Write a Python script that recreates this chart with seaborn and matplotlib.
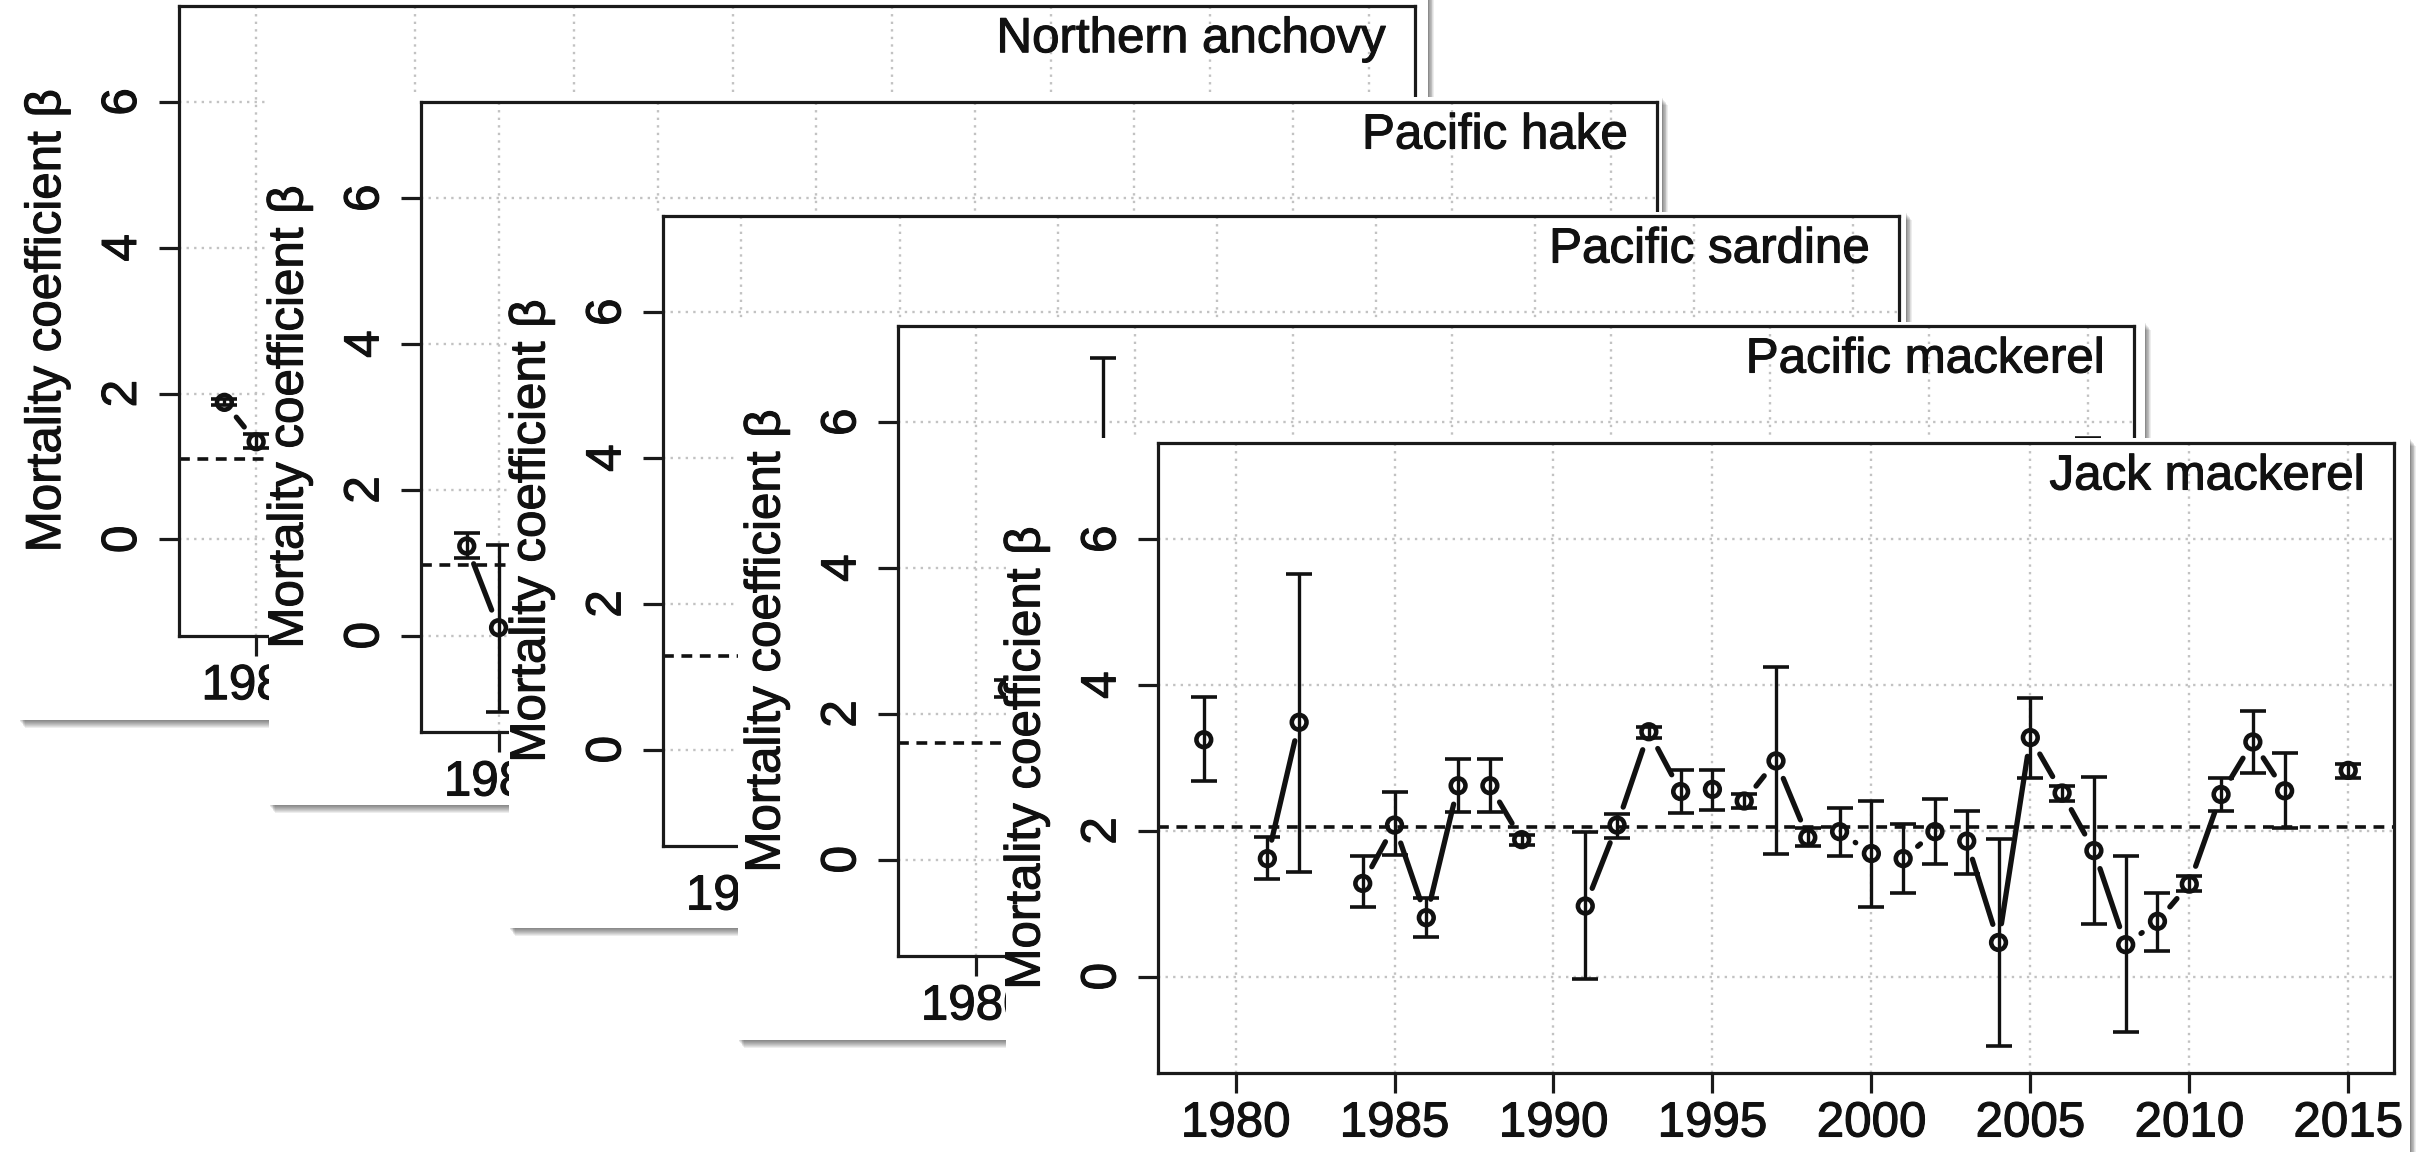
import numpy as np
import pandas as pd
import matplotlib
matplotlib.use("Agg")
import matplotlib.pyplot as plt
from matplotlib.patches import Rectangle
import matplotlib.patheffects as pe
import seaborn as sns

# ---------------------------------------------------------------- data
panel_titles = ["Northern anchovy", "Pacific hake", "Pacific sardine",
                "Pacific mackerel", "Jack mackerel"]
y_label = "Mortality coefficient \u03b2"
x_ticks = [1980, 1985, 1990, 1995, 2000, 2005, 2010, 2015]
y_ticks = [0, 2, 4, 6]

anchovy_years = [1979, 1980]
anchovy_beta = [1.88, 1.34]
anchovy_lo = [1.84, 1.25]
anchovy_hi = [1.93, 1.45]
anchovy_mean = 1.11

hake_years = [1979, 1980]
hake_beta = [1.23, 0.11]
hake_lo = [1.07, -1.05]
hake_hi = [1.41, 1.24]
hake_mean = 0.97

sardine_years = []
sardine_beta = []
sardine_lo = []
sardine_hi = []
sardine_mean = 1.28

pmackerel_years = [1981, 1984, 2015]
pmackerel_beta = [2.35, 4.30, 4.20]
pmackerel_lo = [2.23, 1.70, 2.60]
pmackerel_hi = [2.47, 6.88, 5.79]
pmackerel_mean = 1.60

jack_years = [1979, 1981, 1982, 1984, 1985, 1986, 1987, 1988, 1989,
              1991, 1992, 1993, 1994, 1995, 1996, 1997, 1998, 1999,
              2000, 2001, 2002, 2003, 2004, 2005, 2006, 2007, 2008,
              2009, 2010, 2011, 2012, 2013, 2015]
jack_beta = [3.25, 1.62, 3.49, 1.28, 2.08, 0.81, 2.62, 2.62, 1.88,
             0.97, 2.08, 3.36, 2.54, 2.57, 2.41, 2.96, 1.91, 1.99,
             1.69, 1.62, 1.99, 1.86, 0.47, 3.28, 2.52, 1.73, 0.44,
             0.76, 1.27, 2.50, 3.22, 2.55, 2.83]
jack_lo = [2.69, 1.34, 1.44, 0.95, 1.67, 0.54, 2.26, 2.26, 1.81,
           -0.03, 1.90, 3.28, 2.25, 2.29, 2.32, 1.69, 1.80, 1.66,
           0.96, 1.15, 1.55, 1.41, -0.95, 2.73, 2.41, 0.73, -0.76,
           0.35, 1.17, 2.27, 2.80, 2.04, 2.73]
jack_hi = [3.84, 1.92, 5.53, 1.65, 2.53, 1.08, 2.99, 2.99, 1.94,
           1.99, 2.23, 3.43, 2.83, 2.84, 2.50, 4.25, 2.04, 2.32,
           2.41, 2.10, 2.44, 2.28, 1.89, 3.82, 2.61, 2.74, 1.65,
           1.15, 1.38, 2.73, 3.65, 3.07, 2.92]
jack_mean = 2.06

series = [
    (anchovy_years, anchovy_beta, anchovy_lo, anchovy_hi, anchovy_mean),
    (hake_years, hake_beta, hake_lo, hake_hi, hake_mean),
    (sardine_years, sardine_beta, sardine_lo, sardine_hi, sardine_mean),
    (pmackerel_years, pmackerel_beta, pmackerel_lo, pmackerel_hi, pmackerel_mean),
    (jack_years, jack_beta, jack_lo, jack_hi, jack_mean),
]

# ---------------------------------------------------------------- style
sns.set_theme(style="ticks")
plt.rcParams["font.family"] = ["Liberation Sans", "DejaVu Sans"]

W, H = 2432, 1152
FS = 35.5
INK = "#111111"
TEXT_FX = [pe.withStroke(linewidth=0.8, foreground=INK)]
AX_W, AX_H = 1236, 630
X_LIM = (1977.56, 2016.44)
Y_LIM = (-1.32, 7.32)
GAP_PX = 19  # lines stop short of each point, as with R's type = "b"

# stacked cards: axes origin (left, top) and card extent in pixels
axes_origin = [(178.6, 5.7), (421, 102), (663, 216), (898, 326), (1158, 443)]
card_boxes = [(19, -20, 1428, 720), (269, 97, 1662, 805),
              (509, 212, 1906, 928), (738, 322, 2145, 1040),
              (1006, 438, 2410, 1200)]

fig = plt.figure(figsize=(W / 100, H / 100), dpi=100)
fig.patch.set_facecolor("white")


def fig_rect(x0, y0, x1, y1):
    return (x0 / W, 1 - y1 / H, (x1 - x0) / W, (y1 - y0) / H)


def add_card_rect(x0, y0, x1, y1, **kw):
    rx, ry, rw, rh = fig_rect(x0, y0, x1, y1)
    fig.add_artist(Rectangle((rx, ry), rw, rh, transform=fig.transFigure,
                             edgecolor="none", **kw))


def gapped_segments(ax, years, vals):
    pts = ax.transData.transform(np.column_stack([years, vals]))
    inv = ax.transData.inverted()
    rows = []
    for i in range(len(years) - 1):
        if years[i + 1] - years[i] != 1:
            continue
        d = pts[i + 1] - pts[i]
        length = np.hypot(*d)
        if length <= 2 * GAP_PX:
            continue
        u = d / length
        a, b = inv.transform([pts[i] + u * GAP_PX, pts[i + 1] - u * GAP_PX])
        rows.append({"seg": i, "x": a[0], "y": a[1]})
        rows.append({"seg": i, "x": b[0], "y": b[1]})
    return pd.DataFrame(rows)


for i, (title, (yrs, beta, lo, hi, mean)) in enumerate(zip(panel_titles, series)):
    base = 10 * i
    x0, y0, x1, y1 = card_boxes[i]
    # soft drop shadow under the card
    for k in range(1, 9):
        add_card_rect(x0 + 0.7 * k, y0 + k, x1 + 0.7 * k, y1 + k,
                      facecolor="black", alpha=0.07, zorder=base)
    add_card_rect(x0, y0, x1, y1, facecolor="white", zorder=base + 1)

    left, top = axes_origin[i]
    ax = fig.add_axes(fig_rect(left, top, left + AX_W, top + AX_H))
    ax.set_zorder(base + 2)
    ax.set_facecolor("white")
    ax.set_xlim(*X_LIM)
    ax.set_ylim(*Y_LIM)

    yrs = np.asarray(yrs, dtype=float)
    beta = np.asarray(beta, dtype=float)
    lo = np.asarray(lo, dtype=float)
    hi = np.asarray(hi, dtype=float)

    ax.grid(True, color="#c2c2c2", linestyle=(0, (1, 2.2)), linewidth=1.7)
    ax.set_axisbelow(True)
    ax.axhline(mean, color=INK, linewidth=2.6, linestyle=(0, (3.0, 2.1)), zorder=2)

    if len(yrs):
        segs = gapped_segments(ax, yrs, beta)
        if len(segs):
            sns.lineplot(data=segs, x="x", y="y", units="seg", estimator=None,
                         sort=False, color=INK, linewidth=3.8, ax=ax,
                         legend=False, zorder=3)
        sns.scatterplot(x=yrs, y=beta, ax=ax, marker="o", s=112,
                        facecolor="none", edgecolor=INK, linewidth=3.3,
                        legend=False, zorder=4)
        ax.collections[-1].set_facecolor("none")
        ax.errorbar(yrs, beta, yerr=[beta - lo, hi - beta], fmt="none",
                    ecolor=INK, elinewidth=2.4, capsize=9.6, capthick=2.6,
                    zorder=5)

    ax.set_xlim(*X_LIM)
    ax.set_ylim(*Y_LIM)
    ax.set_xlabel("")
    ax.set_ylabel("")
    ax.set_xticks(x_ticks, labels=[str(v) for v in x_ticks])
    ax.set_yticks(y_ticks, labels=[str(v) for v in y_ticks],
                  rotation=90, va="center")
    ax.tick_params(axis="both", direction="out", length=14.5, width=2.3,
                   color="#1a1a1a", labelsize=FS, labelcolor=INK)
    ax.tick_params(axis="x", pad=6, bottom=True, top=False)
    ax.tick_params(axis="y", pad=9, left=True, right=False)
    for lab in ax.get_xticklabels() + ax.get_yticklabels():
        lab.set_path_effects(TEXT_FX)
    for sp in ax.spines.values():
        sp.set_visible(True)
        sp.set_linewidth(2.3)
        sp.set_color("#1a1a1a")

    ax.text(-131 / AX_W, 0.5, y_label, transform=ax.transAxes, rotation=90,
            ha="center", va="center", fontsize=FS, color=INK,
            path_effects=TEXT_FX)
    ax.text(1 - 29 / AX_W, 1 - 34 / AX_H, title, transform=ax.transAxes,
            ha="right", va="center", fontsize=FS, color=INK,
            path_effects=TEXT_FX)

fig.savefig("out.png", dpi=100, facecolor="white")
